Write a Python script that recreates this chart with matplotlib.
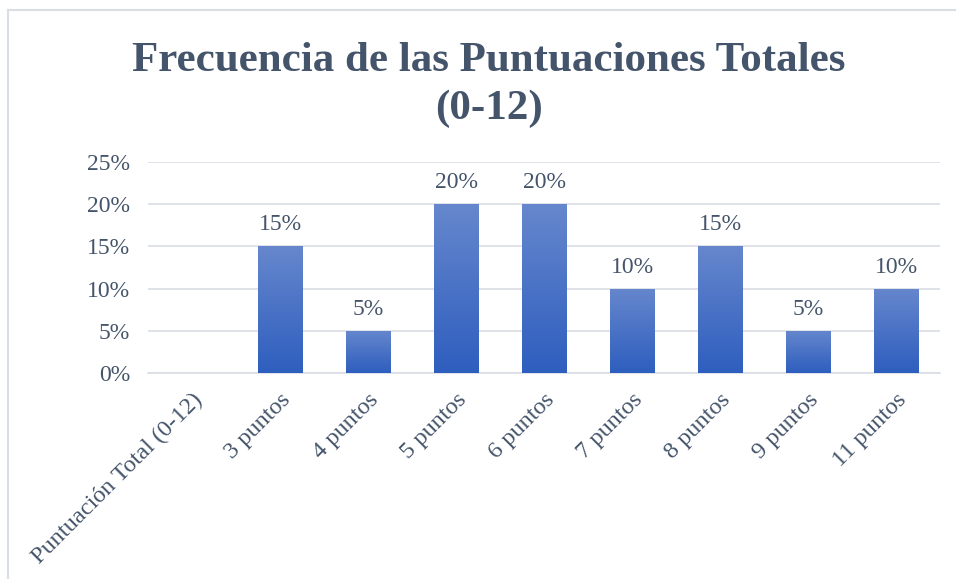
import matplotlib.pyplot as plt
import numpy as np
from matplotlib.lines import Line2D
from matplotlib.ticker import FuncFormatter

categories = ["Puntuación Total (0-12)", "3 puntos", "4 puntos", "5 puntos", "6 puntos",
              "7 puntos", "8 puntos", "9 puntos", "11 puntos"]
values = [None, 15, 5, 20, 20, 10, 15, 5, 10]
y_ticks = [0, 5, 10, 15, 20, 25]

text_color = "#44546A"
plt.rcParams["font.family"] = ["Liberation Serif", "DejaVu Serif"]

fig = plt.figure(figsize=(9.56, 5.79), dpi=100)
ax = fig.add_axes([148 / 956, 1 - 373 / 579, 792 / 956, 211 / 579])

x = np.arange(len(categories))
heights = [v if v is not None else 0 for v in values]
bars = ax.bar(x, heights, width=0.51, color="#4472C4", zorder=2)

# vertical gradient inside each bar, lighter at the top
grad = np.linspace(0, 1, 256).reshape(-1, 1)
cmap = plt.matplotlib.colors.LinearSegmentedColormap.from_list("g", ["#2E5EBE", "#6687CD"])
for bar, v in zip(bars, values):
    if v is None:
        continue
    bx, bw, bh = bar.get_x(), bar.get_width(), bar.get_height()
    im = ax.imshow(grad, extent=[bx, bx + bw, 0, bh], origin="lower", cmap=cmap,
                   aspect="auto", zorder=3)
    im.set_clip_path(bar)
    ax.text(bar.get_x() + bw / 2, bh + 1.3, f"{v}%", ha="center", va="bottom",
            fontsize=17, color=text_color)

ax.set_xlim(-0.5, len(categories) - 0.5)
ax.set_ylim(0, 25)
ax.set_yticks(y_ticks)
ax.yaxis.set_major_formatter(FuncFormatter(lambda v, p: f"{int(v)}%"))
ax.grid(axis="y", color="#D9DDE4", linewidth=1.2, zorder=0)
ax.set_axisbelow(True)
for s in ["top", "right", "left"]:
    ax.spines[s].set_visible(False)
ax.spines["bottom"].set_color("#D9DDE4")
ax.spines["bottom"].set_linewidth(1.2)
ax.tick_params(axis="both", length=0, labelsize=17, labelcolor=text_color)
ax.tick_params(axis="y", pad=13)
ax.set_xticks(x)
ax.set_xticklabels(categories, rotation=45, ha="right", rotation_mode="anchor",
                   fontsize=17.5)
ax.tick_params(axis="x", pad=12)

fig.text(489 / 956, 1 - 85 / 579, "Frecuencia de las Puntuaciones Totales\n(0-12)",
         ha="center", va="center", fontsize=31, fontweight="bold", color=text_color,
         linespacing=1.32)

# chart area border (top and left visible)
fig.add_artist(Line2D([8 / 956, 8 / 956], [0, 1 - 10 / 579], transform=fig.transFigure,
                      color="#D9DDE4", linewidth=1.5))
fig.add_artist(Line2D([8 / 956, 1], [1 - 10 / 579, 1 - 10 / 579], transform=fig.transFigure,
                      color="#D9DDE4", linewidth=1.5))

fig.savefig("out.png", dpi=100)
